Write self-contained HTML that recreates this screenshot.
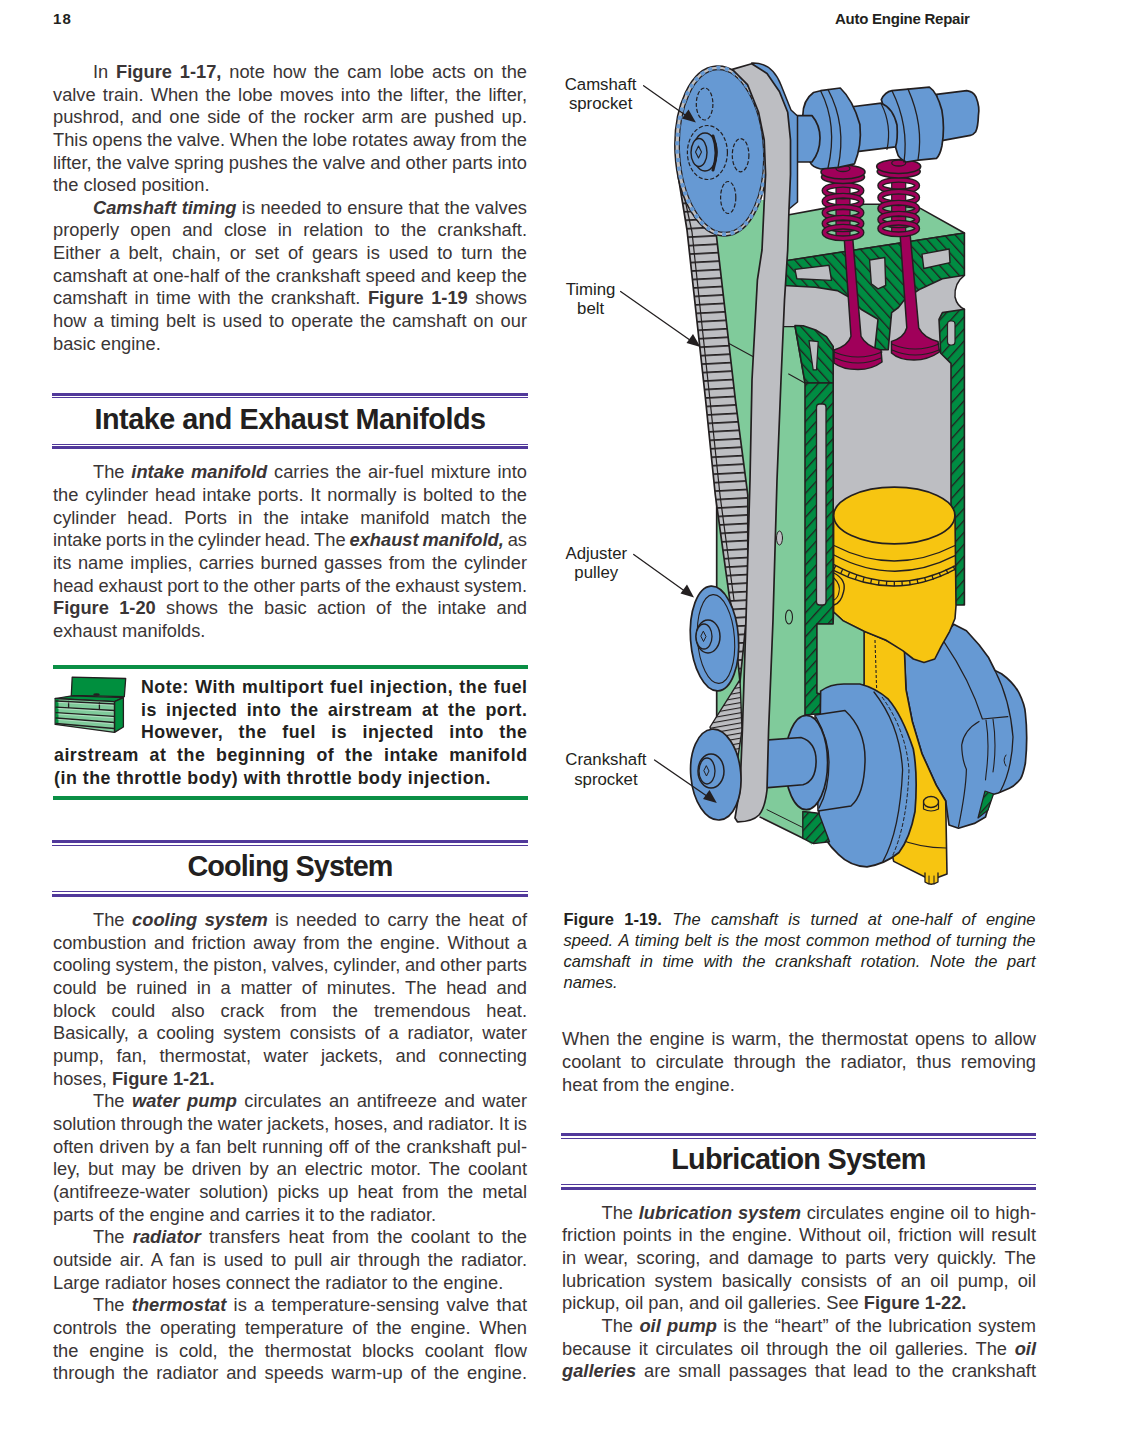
<!DOCTYPE html><html><head><meta charset="utf-8"><style>
*{margin:0;padding:0;box-sizing:border-box}
html,body{width:1122px;height:1444px;background:#fff;overflow:hidden}
body{position:relative;font-family:"Liberation Sans",sans-serif;color:#231f20}
.ln{position:absolute;white-space:nowrap;line-height:20px;height:20px}
.body{font-size:18.3px;letter-spacing:0.0px;color:#3a3536}
.note{font-size:17.8px;letter-spacing:0.52px;font-weight:bold}
.cap{font-size:16.5px;letter-spacing:0.0px}
.rule{position:absolute;background:#51399a}
.grule{position:absolute;background:#0a8f45}
.hd{position:absolute;white-space:nowrap;font-weight:bold;font-size:28.8px;line-height:34px;height:34px}
.lab{position:absolute;white-space:nowrap;font-size:16.8px;line-height:19.3px;text-align:center}
</style></head><body>
<div style="position:absolute;left:53px;top:9.7px;font-size:15px;font-weight:bold;line-height:18px;letter-spacing:1.2px;white-space:nowrap">18</div>
<div style="position:absolute;left:835px;top:9.9px;font-size:15px;font-weight:bold;line-height:18px;letter-spacing:-0.25px;white-space:nowrap">Auto Engine Repair</div>

<div class="rule" style="left:52px;top:393px;width:476px;height:3px"></div>
<div class="rule" style="left:52px;top:397px;width:476px;height:1.2px"></div>
<div class="hd" style="left:52px;width:476px;text-align:center;top:401.5px;letter-spacing:-0.49px">Intake and Exhaust Manifolds</div>
<div class="rule" style="left:52px;top:443.9px;width:476px;height:1.2px"></div>
<div class="rule" style="left:52px;top:446.1px;width:476px;height:2.9px"></div>

<div class="grule" style="left:52.5px;top:664.5px;width:475px;height:4px"></div>
<div class="grule" style="left:52.5px;top:796.4px;width:475px;height:3.9px"></div>

<div class="rule" style="left:52px;top:840px;width:476px;height:2.8px"></div>
<div class="rule" style="left:52px;top:845px;width:476px;height:1.1px"></div>
<div class="hd" style="left:52px;width:476px;text-align:center;top:849.4px;letter-spacing:-0.89px">Cooling System</div>
<div class="rule" style="left:52px;top:890.9px;width:476px;height:1.1px"></div>
<div class="rule" style="left:52px;top:894.1px;width:476px;height:2.8px"></div>

<div class="rule" style="left:561.3px;top:1133px;width:474.3px;height:2.8px"></div>
<div class="rule" style="left:561.3px;top:1138px;width:474.3px;height:1.1px"></div>
<div class="hd" style="left:561.3px;width:474.3px;text-align:center;top:1142.3px;letter-spacing:-0.71px">Lubrication System</div>
<div class="rule" style="left:561.3px;top:1183.9px;width:474.3px;height:1.1px"></div>
<div class="rule" style="left:561.3px;top:1187.1px;width:474.3px;height:2.8px"></div>

<div class="lab" style="left:540.6px;width:120px;top:74.6px">Camshaft<br>sprocket</div>
<div class="lab" style="left:530.6px;width:120px;top:280.2px">Timing<br>belt</div>
<div class="lab" style="left:536.3px;width:120px;top:543.5px">Adjuster<br>pulley</div>
<div class="lab" style="left:545.9px;width:120px;top:750.3px">Crankshaft<br>sprocket</div>

<svg style="position:absolute;left:0;top:0" width="1122" height="1444" viewBox="0 0 1122 1444">
 <g stroke="#231f20" stroke-linejoin="round" stroke-linecap="round">
  <polygon points="72.2,677.1 125.7,678.5 124.3,696.7 71.3,695.4" fill="#008f3e" stroke-width="1.3"/>
  <polygon points="55.2,698.5 71.7,695.8 123.4,697.6 114.5,701.6" fill="#008f3e" stroke-width="1.2"/>
  <polygon points="114.5,701.6 123.4,697.6 123.4,727 114.5,732.4" fill="#008f3e" stroke-width="1.3"/>
  <polygon points="55.2,698.5 114.5,701.6 114.5,732.4 55.2,724.4" fill="#80cb9b" stroke-width="1.4"/>
  <rect x="55.5" y="699" width="3" height="25" fill="#008f3e" stroke="none"/>
  <g fill="none" stroke-width="1.3">
   <path d="M56,701 L114,704"/>
   <path d="M56,707.2 L114,710.5"/>
   <path d="M56,712.6 L114,716.4"/>
   <path d="M56,718 L114,722.5"/>
   <path d="M56,723.5 L114,728.5"/>
   <path d="M68.6,701.5 L68.6,707.5 M99.4,703 L99.4,709.5"/>
  </g>
  <g fill="none" stroke="#fff" stroke-width="0.6" opacity="0.7">
   <path d="M58,702.3 L113,705.2 M58,708.5 L113,711.7 M58,714 L113,717.6 M58,719.4 L113,723.7"/>
  </g>
  <ellipse cx="96.5" cy="694.5" rx="3.2" ry="1.2" fill="#231f20" stroke="none"/>
 </g>
</svg>

<div class="ln body" id="l0_0" style="left:93.0px;top:61.96px;word-spacing:2.752px">In <b>Figure 1-17,</b> note how the cam lobe acts on the</div>
<div class="ln body" id="l0_1" style="left:53.0px;top:84.60px;word-spacing:2.080px">valve train. When the lobe moves into the lifter, the lifter,</div>
<div class="ln body" id="l0_2" style="left:53.0px;top:107.24px;word-spacing:2.277px">pushrod, and one side of the rocker arm are pushed up.</div>
<div class="ln body" id="l0_3" style="left:53.0px;top:129.88px;word-spacing:-0.259px">This opens the valve. When the lobe rotates away from the</div>
<div class="ln body" id="l0_4" style="left:53.0px;top:152.52px;word-spacing:-0.261px">lifter, the valve spring pushes the valve and other parts into</div>
<div class="ln body" id="l0_5" style="left:53.0px;top:175.16px;word-spacing:0.000px">the closed position.</div>
<div class="ln body" id="l0_6" style="left:93.0px;top:197.80px;word-spacing:0.268px"><b><i>Camshaft timing</i></b> is needed to ensure that the valves</div>
<div class="ln body" id="l0_7" style="left:53.0px;top:220.44px;word-spacing:6.150px">properly open and close in relation to the crankshaft.</div>
<div class="ln body" id="l0_8" style="left:53.0px;top:243.08px;word-spacing:3.763px">Either a belt, chain, or set of gears is used to turn the</div>
<div class="ln body" id="l0_9" style="left:53.0px;top:265.72px;word-spacing:0.271px">camshaft at one-half of the crankshaft speed and keep the</div>
<div class="ln body" id="l0_10" style="left:53.0px;top:288.36px;word-spacing:2.352px">camshaft in time with the crankshaft. <b>Figure 1-19</b> shows</div>
<div class="ln body" id="l0_11" style="left:53.0px;top:311.00px;word-spacing:1.795px">how a timing belt is used to operate the camshaft on our</div>
<div class="ln body" id="l0_12" style="left:53.0px;top:333.64px;word-spacing:0.000px">basic engine.</div>
<div class="ln body" id="l1_0" style="left:93.0px;top:462.46px;word-spacing:1.766px">The <b><i>intake manifold</i></b> carries the air-fuel mixture into</div>
<div class="ln body" id="l1_1" style="left:53.0px;top:485.10px;word-spacing:1.672px">the cylinder head intake ports. It normally is bolted to the</div>
<div class="ln body" id="l1_2" style="left:53.0px;top:507.74px;word-spacing:6.154px">cylinder head. Ports in the intake manifold match the</div>
<div class="ln body" id="l1_3" style="left:53.0px;top:530.38px;word-spacing:-1.151px">intake ports in the cylinder head. The <b><i>exhaust manifold,</i></b> as</div>
<div class="ln body" id="l1_4" style="left:53.0px;top:553.02px;word-spacing:1.590px">its name implies, carries burned gasses from the cylinder</div>
<div class="ln body" id="l1_5" style="left:53.0px;top:575.66px;word-spacing:-0.362px">head exhaust port to the other parts of the exhaust system.</div>
<div class="ln body" id="l1_6" style="left:53.0px;top:598.30px;word-spacing:5.243px"><b>Figure 1-20</b> shows the basic action of the intake and</div>
<div class="ln body" id="l1_7" style="left:53.0px;top:620.94px;word-spacing:0.000px">exhaust manifolds.</div>
<div class="ln note" id="l2_0" style="left:141.0px;top:677.03px;word-spacing:0.785px">Note: With multiport fuel injection, the fuel</div>
<div class="ln note" id="l2_1" style="left:141.0px;top:699.68px;word-spacing:3.748px">is injected into the airstream at the port.</div>
<div class="ln note" id="l2_2" style="left:141.0px;top:722.33px;word-spacing:9.912px">However, the fuel is injected into the</div>
<div class="ln note" id="l2_3" style="left:54.0px;top:744.98px;word-spacing:5.291px">airstream at the beginning of the intake manifold</div>
<div class="ln note" id="l2_4" style="left:54.0px;top:767.63px;word-spacing:0.000px">(in the throttle body) with throttle body injection.</div>
<div class="ln body" id="l3_0" style="left:93.0px;top:909.96px;word-spacing:2.493px">The <b><i>cooling system</i></b> is needed to carry the heat of</div>
<div class="ln body" id="l3_1" style="left:53.0px;top:932.62px;word-spacing:2.344px">combustion and friction away from the engine. Without a</div>
<div class="ln body" id="l3_2" style="left:53.0px;top:955.28px;word-spacing:-0.449px">cooling system, the piston, valves, cylinder, and other parts</div>
<div class="ln body" id="l3_3" style="left:53.0px;top:977.94px;word-spacing:4.547px">could be ruined in a matter of minutes. The head and</div>
<div class="ln body" id="l3_4" style="left:53.0px;top:1000.60px;word-spacing:10.810px">block could also crack from the tremendous heat.</div>
<div class="ln body" id="l3_5" style="left:53.0px;top:1023.26px;word-spacing:3.662px">Basically, a cooling system consists of a radiator, water</div>
<div class="ln body" id="l3_6" style="left:53.0px;top:1045.92px;word-spacing:7.529px">pump, fan, thermostat, water jackets, and connecting</div>
<div class="ln body" id="l3_7" style="left:53.0px;top:1068.58px;word-spacing:0.000px">hoses, <b>Figure 1-21.</b></div>
<div class="ln body" id="l3_8" style="left:93.0px;top:1091.24px;word-spacing:2.339px">The <b><i>water pump</i></b> circulates an antifreeze and water</div>
<div class="ln body" id="l3_9" style="left:53.0px;top:1113.90px;word-spacing:-0.290px">solution through the water jackets, hoses, and radiator. It is</div>
<div class="ln body" id="l3_10" style="left:53.0px;top:1136.56px;word-spacing:0.622px">often driven by a fan belt running off of the crankshaft pul-</div>
<div class="ln body" id="l3_11" style="left:53.0px;top:1159.22px;word-spacing:2.756px">ley, but may be driven by an electric motor. The coolant</div>
<div class="ln body" id="l3_12" style="left:53.0px;top:1181.88px;word-spacing:3.991px">(antifreeze-water solution) picks up heat from the metal</div>
<div class="ln body" id="l3_13" style="left:53.0px;top:1204.54px;word-spacing:0.000px">parts of the engine and carries it to the radiator.</div>
<div class="ln body" id="l3_14" style="left:93.0px;top:1227.20px;word-spacing:3.186px">The <b><i>radiator</i></b> transfers heat from the coolant to the</div>
<div class="ln body" id="l3_15" style="left:53.0px;top:1249.86px;word-spacing:2.624px">outside air. A fan is used to pull air through the radiator.</div>
<div class="ln body" id="l3_16" style="left:53.0px;top:1272.52px;word-spacing:0.000px">Large radiator hoses connect the radiator to the engine.</div>
<div class="ln body" id="l3_17" style="left:93.0px;top:1295.18px;word-spacing:2.221px">The <b><i>thermostat</i></b> is a temperature-sensing valve that</div>
<div class="ln body" id="l3_18" style="left:53.0px;top:1317.84px;word-spacing:3.690px">controls the operating temperature of the engine. When</div>
<div class="ln body" id="l3_19" style="left:53.0px;top:1340.50px;word-spacing:5.771px">the engine is cold, the thermostat blocks coolant flow</div>
<div class="ln body" id="l3_20" style="left:53.0px;top:1363.16px;word-spacing:2.846px">through the radiator and speeds warm-up of the engine.</div>
<div class="ln cap" id="l4_0" style="left:563.5px;top:909.18px;word-spacing:5.767px"><b>Figure 1-19.</b> <i>The camshaft is turned at one-half of engine</i></div>
<div class="ln cap" id="l4_1" style="left:563.5px;top:930.08px;word-spacing:1.415px"><i>speed. A timing belt is the most common method of turning the</i></div>
<div class="ln cap" id="l4_2" style="left:563.5px;top:950.98px;word-spacing:5.059px"><i>camshaft in time with the crankshaft rotation. Note the part</i></div>
<div class="ln cap" id="l4_3" style="left:563.5px;top:971.88px;word-spacing:0.000px"><i>names.</i></div>
<div class="ln body" id="l5_0" style="left:562.0px;top:1028.96px;word-spacing:2.083px">When the engine is warm, the thermostat opens to allow</div>
<div class="ln body" id="l5_1" style="left:562.0px;top:1051.76px;word-spacing:4.708px">coolant to circulate through the radiator, thus removing</div>
<div class="ln body" id="l5_2" style="left:562.0px;top:1074.56px;word-spacing:0.000px">heat from the engine.</div>
<div class="ln body" id="l6_0" style="left:601.5px;top:1202.66px;word-spacing:0.665px">The <b><i>lubrication system</i></b> circulates engine oil to high-</div>
<div class="ln body" id="l6_1" style="left:562.0px;top:1225.31px;word-spacing:1.861px">friction points in the engine. Without oil, friction will result</div>
<div class="ln body" id="l6_2" style="left:562.0px;top:1247.96px;word-spacing:3.175px">in wear, scoring, and damage to parts very quickly. The</div>
<div class="ln body" id="l6_3" style="left:562.0px;top:1270.61px;word-spacing:4.127px">lubrication system basically consists of an oil pump, oil</div>
<div class="ln body" id="l6_4" style="left:562.0px;top:1293.26px;word-spacing:0.000px">pickup, oil pan, and oil galleries. See <b>Figure 1-22.</b></div>
<div class="ln body" id="l6_5" style="left:601.5px;top:1315.91px;word-spacing:1.314px">The <b><i>oil pump</i></b> is the &#8220;heart&#8221; of the lubrication system</div>
<div class="ln body" id="l6_6" style="left:562.0px;top:1338.56px;word-spacing:2.573px">because it circulates oil through the oil galleries. The <b><i>oil</i></b></div>
<div class="ln body" id="l6_7" style="left:562.0px;top:1361.21px;word-spacing:2.723px"><b><i>galleries</i></b> are small passages that lead to the crankshaft</div>
<svg style="position:absolute;left:0;top:0" width="1122" height="1444" viewBox="0 0 1122 1444">
<defs>
 <pattern id="hf" patternUnits="userSpaceOnUse" width="8" height="8" patternTransform="rotate(-42)">
  <rect width="8" height="8" fill="#008c42"/><rect x="0" y="0" width="1.3" height="8" fill="#231f20"/>
 </pattern>
 <pattern id="hb" patternUnits="userSpaceOnUse" width="8" height="8" patternTransform="rotate(42)">
  <rect width="8" height="8" fill="#008c42"/><rect x="0" y="0" width="1.3" height="8" fill="#231f20"/>
 </pattern>
 <pattern id="teeth" patternUnits="userSpaceOnUse" width="40" height="8.5" patternTransform="rotate(-3)">
  <rect width="40" height="8.5" fill="#bdbec2"/><rect x="0" y="0" width="40" height="1.7" fill="#231f20"/>
 </pattern>
 <pattern id="teeth2" patternUnits="userSpaceOnUse" width="40" height="5" patternTransform="rotate(-10)">
  <rect width="40" height="5" fill="#bdbec2"/><rect x="0" y="0" width="40" height="1.1" fill="#231f20"/>
 </pattern>
</defs>
<g stroke="#231f20" stroke-width="1.5" stroke-linejoin="round" stroke-linecap="round">
 <!-- gray interior behind cylinder/head -->
 <path d="M783,262 L964.4,234 L964.4,275.3 Q954,283 955,297 Q957,306 964.4,309.2 L964.4,605 L951,605 L951,625 L805,625 L805,383 L795,326.6 L783,326.6 Z" fill="#bdbec2" stroke="none"/>
 <!-- light green block face -->
 <path d="M716,200 L764,200 L764,326.6 L795,326.6 L805,383 L805,700 L812,845 L803,838 L760,816 L740,790 L716,720 Z" fill="#80cb9b" stroke="none"/>
 <line x1="716.7" y1="500" x2="716.7" y2="722" stroke-width="1.7"/>
 <path d="M760,817 L803,838.3" fill="none" stroke-width="1.6"/>
 <path d="M767,809.7 L803,827.6" fill="none" stroke-width="1"/>
 <path d="M764,326.6 L795,326.6 L805,383" fill="none" stroke-width="1.4"/>
 <path d="M729,343.6 L753.8,357" fill="none" stroke-width="1.1"/>
 <path d="M788.7,373.9 L804.9,383.1" fill="none" stroke-width="1.1"/>
 <!-- head top face -->
 <path d="M785,215.5 L823.9,208.4 L864.5,204.2 L881.4,204.2 L920.4,208.4 L964.4,233 L785,261 Z" fill="#80cb9b" stroke-width="1.6"/>
 <!-- head section -->
 <path d="M784,261 L964.4,233 L964.4,275.3 L942.4,278.7 L920.4,288.9 L905,299 L898.4,307.5 L891.6,312.6 L888.2,349.8 L874.7,349.8 L878,319.3 L861,309.2 L849.3,297.3 L837.4,290.6 L815.4,287.2 L784,285.5 Z" fill="url(#hf)" stroke-width="1.6"/>
 <path d="M795,269.4 L829,265.2 L831.5,280.4 L796.8,278.7 Z" fill="#bdbec2" stroke-width="1.4"/>
 <path d="M869.6,260 L884.8,257.5 L885.7,285.5 L878,288.9 L871.3,283.8 Z" fill="#bdbec2" stroke-width="1.4"/>
 <path d="M922,254.1 L949.2,249 L950,262.6 L923.8,268.5 Z" fill="#bdbec2" stroke-width="1.4"/>
 <path d="M964.4,275.3 Q954,283 955,297 Q957,306 964.4,309.2" fill="none" stroke-width="1.5"/>
 <!-- left wall -->
 <path d="M795,325.5 L803.2,325.8 L815.7,330 L826.5,336.6 L833.2,346.5 L833.2,383 L805,383 Z" fill="url(#hf)" stroke-width="1.6"/>
 <path d="M805,383 L833.2,383 L833.2,624 L817,624 L817,693 L842,701 L842,711.7 L805,715 Z" fill="url(#hb)" stroke-width="1.6"/>
 <path d="M809,340.7 L818.2,341.6 L816.5,369.8 L813.2,369.8 Z" fill="#bdbec2" stroke-width="1.2"/>
 <rect x="816.5" y="404" width="9.5" height="201" rx="3" fill="#bdbec2" stroke-width="1.3"/>
 <!-- right wall -->
 <path d="M939,319.3 L942.4,312.6 L964.4,309.2 L964.4,605 L951,605 L951,363.4 L940.7,353.2 Z" fill="url(#hb)" stroke-width="1.6"/>
 <rect x="947.5" y="321" width="7.5" height="24" rx="3" fill="#bdbec2" stroke-width="1.2"/>
 <!-- valves -->
 <path d="M844.2,238 L852.7,238 L861,336.3 Q866,346 881,350 L882,362 Q872,369.5 858,369.5 Q842,369.5 834,363 L834,350 Q848,346 851,336.3 Z" fill="#a0005a" stroke-width="1.5"/>
 <path d="M834,352 Q858,362 882,352" fill="none" stroke-width="1.2"/>
 <path d="M835,358 Q858,368 881,358" fill="none" stroke-width="1.2"/>
 <path d="M900,233 L910,233 L918.7,327.8 Q924,338 938,341.4 L939.5,352 Q928,360 914,360 Q899,360 891.5,353 L891.5,341.4 Q904,338 906.8,327.8 Z" fill="#a0005a" stroke-width="1.5"/>
 <path d="M891.5,344 Q915,354 939,344" fill="none" stroke-width="1.2"/>
 <path d="M892,350 Q915,360 939,350" fill="none" stroke-width="1.2"/>
 <!-- springs -->
 <g>
  <rect x="836" y="167" width="14" height="73.5" fill="#a0005a" stroke="#231f20" stroke-width="1.2"/>
  <ellipse cx="843" cy="190.6" rx="18.5" ry="5.8" fill="none" stroke="#231f20" stroke-width="6"/>
  <ellipse cx="843" cy="190.6" rx="18.5" ry="5.8" fill="none" stroke="#a0005a" stroke-width="3.2"/>
  <ellipse cx="843" cy="201.5" rx="18.5" ry="5.8" fill="none" stroke="#231f20" stroke-width="6"/>
  <ellipse cx="843" cy="201.5" rx="18.5" ry="5.8" fill="none" stroke="#a0005a" stroke-width="3.2"/>
  <ellipse cx="843" cy="212.7" rx="18.5" ry="5.8" fill="none" stroke="#231f20" stroke-width="6"/>
  <ellipse cx="843" cy="212.7" rx="18.5" ry="5.8" fill="none" stroke="#a0005a" stroke-width="3.2"/>
  <ellipse cx="843" cy="223.5" rx="18.5" ry="5.8" fill="none" stroke="#231f20" stroke-width="6"/>
  <ellipse cx="843" cy="223.5" rx="18.5" ry="5.8" fill="none" stroke="#a0005a" stroke-width="3.2"/>
  <ellipse cx="843" cy="232.5" rx="18.5" ry="5.8" fill="none" stroke="#231f20" stroke-width="6"/>
  <ellipse cx="843" cy="232.5" rx="18.5" ry="5.8" fill="none" stroke="#a0005a" stroke-width="3.2"/>
  <ellipse cx="843" cy="177" rx="21.5" ry="6.5" fill="#a0005a" stroke="#231f20" stroke-width="1.6"/>
  <ellipse cx="843" cy="172" rx="22" ry="7" fill="#a0005a" stroke="#231f20" stroke-width="1.6"/>
  <ellipse cx="843" cy="168.5" rx="7" ry="3" fill="#a0005a" stroke="#231f20" stroke-width="1.3"/>
  <rect x="891.7" y="161.5" width="14" height="75.0" fill="#a0005a" stroke="#231f20" stroke-width="1.2"/>
  <ellipse cx="898.7" cy="185.6" rx="18.5" ry="5.8" fill="none" stroke="#231f20" stroke-width="6"/>
  <ellipse cx="898.7" cy="185.6" rx="18.5" ry="5.8" fill="none" stroke="#a0005a" stroke-width="3.2"/>
  <ellipse cx="898.7" cy="197.4" rx="18.5" ry="5.8" fill="none" stroke="#231f20" stroke-width="6"/>
  <ellipse cx="898.7" cy="197.4" rx="18.5" ry="5.8" fill="none" stroke="#a0005a" stroke-width="3.2"/>
  <ellipse cx="898.7" cy="208.5" rx="18.5" ry="5.8" fill="none" stroke="#231f20" stroke-width="6"/>
  <ellipse cx="898.7" cy="208.5" rx="18.5" ry="5.8" fill="none" stroke="#a0005a" stroke-width="3.2"/>
  <ellipse cx="898.7" cy="219.5" rx="18.5" ry="5.8" fill="none" stroke="#231f20" stroke-width="6"/>
  <ellipse cx="898.7" cy="219.5" rx="18.5" ry="5.8" fill="none" stroke="#a0005a" stroke-width="3.2"/>
  <ellipse cx="898.7" cy="228.5" rx="18.5" ry="5.8" fill="none" stroke="#231f20" stroke-width="6"/>
  <ellipse cx="898.7" cy="228.5" rx="18.5" ry="5.8" fill="none" stroke="#a0005a" stroke-width="3.2"/>
  <ellipse cx="898.7" cy="171.5" rx="21.5" ry="6.5" fill="#a0005a" stroke="#231f20" stroke-width="1.6"/>
  <ellipse cx="898.7" cy="166.5" rx="22" ry="7" fill="#a0005a" stroke="#231f20" stroke-width="1.6"/>
  <ellipse cx="898.7" cy="163.0" rx="7" ry="3" fill="#a0005a" stroke="#231f20" stroke-width="1.3"/>
 </g>
 <!-- camshaft -->
 <g fill="#6699d3" stroke-width="1.7">
  <path d="M936.5,94.3 L966.8,90.7 Q973,91.5 976,97 Q980,107 978.4,115.6 Q978,127 975.7,131.7 Q973,135 970.4,135.3 L941.9,140.6 Z"/>
  <path d="M881.3,99.6 Q885,92 892,90.7 L929.4,87.1 Q937,92 941.9,110.3 Q945,128 941.9,146 Q940,155 936.5,158.4 L918.7,160.2 L906.2,162 Q898,158 897.3,153 Z"/>
  <path d="M892,90.7 Q909,125 904,162" fill="none" stroke-width="1.3"/>
  <path d="M908,89 Q924,125 918,160" fill="none" stroke-width="1.3"/>
  <path d="M850,107 L881.3,103.2 Q893,108 897,125 Q898,140 895.5,146.8 L855,151.8 Z"/>
  <path d="M881.3,104 Q892,125 887,149.5" fill="none" stroke-width="1.2"/>
  <path d="M802.8,115.6 Q803,100 813.5,92.5 L820.6,90.7 L840.3,88 Q853,100 859.9,124.6 Q862,145 854.5,163.8 L838.5,167.3 L820.6,169 Q812,167 810,162 Z"/>
  <path d="M820.6,90.7 Q838,125 828,168" fill="none" stroke-width="1.3"/>
  <path d="M828,89.5 Q847,125 838,167.5" fill="none" stroke-width="1.3"/>
  <path d="M792,115.6 L812,115.6 Q820,125 820,138 Q820,152 812,162 L792,162 Z"/>
 </g>
 <!-- right crank web (behind rod) -->
 <path d="M904,650 L940,641 L953.7,624.3 L966.4,630.7 L979.2,645 L988.7,657.8 L995,670.5 L1001.5,673.7 Q1013,682 1019,692.8 Q1025,705 1025.4,713.5 Q1028,737 1025.4,763 Q1023,775 1020.6,778.8 Q1015,786 1009.4,788.3 L998.3,793 L992,794.7 L985.5,817 L974.4,823.4 L958.5,828.2 L949,825 L945.7,801 L936.2,785.2 L921.8,753.3 L912.3,721.5 L906,689.6 Z" fill="#6699d3" stroke-width="1.7"/>
 <path d="M944,641.8 Q970,680 982.4,719 L1007.8,716.7" fill="none" stroke-width="1.2"/>
 <path d="M995,670.5 Q1010,700 1013,737 Q1012,770 1000,792" fill="none" stroke-width="1.3"/>
 <path d="M979,721.5 Q964,730 961.7,745 Q962,760 966.4,769.2 Q966,790 958.5,826.6" fill="none" stroke-width="1.2"/>
 <path d="M986,720 Q990,745 986,775 L985.5,780" fill="none" stroke-width="1.1"/>
 <path d="M993,719 Q997,745 993,772" fill="none" stroke-width="1.1"/>
 <path d="M1006,755 Q1002,760 1006,766" fill="none" stroke-width="1"/>
 <!-- dark green bit right -->
 <path d="M985,791 L993.5,794 L988,810 L978,818 Z" fill="url(#hb)" stroke-width="1.2"/>
 <!-- yellow rod -->
 <path d="M864,631 L904.3,648 L906,689.6 L912.3,721.5 L921.8,753.3 L936.2,785.2 L945.7,801 L947,874 L931,880 L893.7,861.4 L880,800 L864,690 Z" fill="#f7c511" stroke-width="1.6"/>
 <path d="M875,640 L877,700" fill="none" stroke-width="1.1" stroke-dasharray="3,2" stroke-linecap="butt"/>
 <path d="M896,838 Q920,848 946,848" fill="none" stroke-width="1.1"/>
 <ellipse cx="931" cy="802" rx="7.5" ry="5.5" fill="#f7c511" stroke-width="1.3"/>
 <path d="M923.5,802 L923.5,809 Q931,813 938.5,809 L938.5,802" fill="none" stroke-width="1.2"/>
 <path d="M925,873 L925,882 Q931,886.5 938,882 L938,873" fill="#f7c511" stroke-width="1.3"/><path d="M929,876 L929,884 M934,876 L934,884" fill="none" stroke-width="1"/>
 <!-- piston -->
 <path d="M833.6,515 L955,515 L956,605.7 L955,618.5 L949.7,631.3 L941.2,646.3 L934.8,659 L924,662.4 L913.4,659 L902.7,650.6 L885.6,640 L864,631.3 L842.8,620.6 L833.6,612 Z" fill="#f7c511" stroke-width="1.6"/>
 <ellipse cx="894.3" cy="515.5" rx="60.6" ry="28.4" fill="#f7c511" stroke-width="1.7"/>
 <path d="M834,545.5 Q894,576.5 955,545.5" fill="none" stroke-width="1.4"/>
 <path d="M834,555 Q894,587 955,555.7" fill="none" stroke-width="1.4"/>
 <path d="M834,564.6 Q894,597.6 955,565.8" fill="none" stroke-width="1.3"/>
 <path d="M834,570.6 Q894,602 955,569.4" fill="none" stroke-width="1.3"/>
 <path d="M834,567.6 Q894,599.8 955,567.6" fill="none" stroke-width="5" stroke-dasharray="1.3,6.5" stroke-linecap="butt"/>
 <path d="M834,573 Q847,580 843.5,592 Q841,603 834,605" fill="none" stroke-width="1.4"/>
 <path d="M834,578 Q841,585 839,592 Q838,598 834,600" fill="none" stroke-width="1.1"/>
 <!-- light green inner block face (crankcase) -->
 <path d="M817,624 L833.2,624 L833.6,612 L842.8,620.6 L864,631.3 L864,684 L842,701 L817,693 Z" fill="#80cb9b" stroke-width="1.4"/>
 <!-- left web -->
 <path d="M820.6,691.2 Q830,684 843.8,684 L859.8,684 Q876,688 888.3,699.2 Q902,715 913.3,749 Q918,775 915,811.5 Q910,838 899,852.5 Q885,864 867,866.8 Q850,866 838.4,854.3 Q823,840 818.8,824 Z" fill="#6699d3" stroke-width="1.7"/>
 <path d="M874,692 Q900,725 902.6,770 Q900,830 883,861.4" fill="none" stroke-width="1.3"/>
 <path d="M882,697 Q906,730 909,770 Q907,825 892,857" fill="none" stroke-width="1" stroke-dasharray="4,2" stroke-linecap="butt"/>
 <!-- dark green bottom bits -->
 <path d="M802.8,811.5 L818.8,813.3 L829.5,841.8 L813.5,843.6 L802.8,838.3 Z" fill="url(#hb)" stroke-width="1.4"/>
 <!-- collar -->
 <path d="M815,715 L845,710.5 Q866,730 865,762 Q864,795 851,806 L818,811 Z" fill="#6699d3" stroke-width="1.5"/>
 <!-- small cylinder -->
 <ellipse cx="806.3" cy="762.5" rx="21.3" ry="47.2" fill="#6699d3" stroke-width="1.7"/>
 <path d="M816,717 Q829,740 829,762 Q829,790 819,808" fill="none" stroke-width="1.3"/>
 <!-- shaft stub -->
 <path d="M760,740.5 L801,737.5 Q816,742 816.1,761 Q816,781 803,784.8 L760,788.3 Z" fill="#6699d3" stroke-width="1.6"/>
 <!-- camshaft sprocket: rim behind belt -->
 <path d="M751.7,63 Q772,62 781,85 L791,110 L797.5,116 L797.5,202 L789,209 L776,209 L776,90 Z" fill="#6699d3" stroke-width="1.5"/>
 <!-- toothed belt left run -->
 <path d="M680,180 L706,226 L716,232 L735.4,400 L747.8,495 L747.8,600 L747,612 L740,682 L733,612 L729.8,600 L715.3,495 L705.6,400 L687,230 L678,175 Z" fill="url(#teeth)" stroke-width="1.7"/>
 <path d="M684,195 L692,232 L710,400 L720,495 L734,600" fill="none" stroke-width="1.2"/>
 <!-- toothed segment between pulleys -->
 <path d="M740,679.6 L742,730 L733,790 L720,760 L710,727 Z" fill="url(#teeth2)" stroke-width="1.4"/>
 <!-- cam sprocket teeth ring + face -->
 <g transform="rotate(-3 721 151)">
 <ellipse cx="721" cy="151" rx="46" ry="85" fill="#bdbec2" stroke-width="1.5"/>
 <ellipse cx="721.5" cy="151" rx="42" ry="81.5" fill="#6699d3" stroke-width="1.2"/>
 <ellipse cx="721.5" cy="151" rx="44" ry="83.3" fill="none" stroke="#6699d3" stroke-width="4" stroke-dasharray="4,4.5" stroke-linecap="butt"/>
 </g>
 <g fill="none" stroke-width="1.2" stroke-dasharray="4,2" stroke-linecap="butt">
  <ellipse cx="704.6" cy="104" rx="8.3" ry="16"/>
  <ellipse cx="740.6" cy="155.2" rx="8.3" ry="16.6"/>
  <ellipse cx="728.2" cy="197.5" rx="7.6" ry="16"/>
  <ellipse cx="707.4" cy="152.5" rx="20" ry="27"/>
 </g>
 <ellipse cx="705" cy="152" rx="12" ry="19" fill="#6699d3" stroke-width="1.5"/>
 <ellipse cx="699" cy="152.5" rx="8" ry="14" fill="#6699d3" stroke-width="1.4"/>
 <path d="M698.5,146 L701.5,152 L698.5,158 L695.5,152 Z" fill="none" stroke-width="1.1"/>
 <path d="M713,136 Q719,152 713,170" fill="none" stroke-width="3"/>
 <!-- right plain belt -->
 <path d="M732.3,69.4 L751.7,63.8 L767,73.5 L779.4,91.5 L787.7,112.3 L790.5,140 L790.5,174.6 L789,209.3 L787.7,250 L784.5,300 L781,380 L777,480 L773,620 L768.6,730 L767,790 Q765,808 759,815 Q752,822 737.4,821.8 L735,818 L738,800 L740,790 L742.4,730 L746,620 L750,480 L752,380 L757.4,280 L762,250 L764.2,202.3 L765.6,174.6 L764.2,140 L758.6,112.3 L747.5,84.6 Z" fill="#bdbec2" stroke-width="1.7"/>
 <!-- small holes on block face -->
 <ellipse cx="779.5" cy="538" rx="3" ry="7" fill="#bdbec2" stroke-width="1"/>
 <ellipse cx="789" cy="617" rx="3.5" ry="7" fill="none" stroke-width="1.1"/>
 <!-- adjuster pulley -->
 <ellipse cx="714.5" cy="638.5" rx="24" ry="52.5" transform="rotate(-4 714.5 638.5)" fill="#6699d3" stroke-width="1.7"/>
 <ellipse cx="716" cy="639" rx="18.5" ry="44.5" transform="rotate(-4 716 639)" fill="none" stroke-width="1.1"/>
 <ellipse cx="708" cy="636.5" rx="12" ry="16.5" fill="#6699d3" stroke-width="1.5"/>
 <ellipse cx="704" cy="636.5" rx="8" ry="12.5" fill="#6699d3" stroke-width="1.3"/>
 <path d="M703.5,631.5 L706,636.5 L703.5,641.5 L701,636.5 Z" fill="none" stroke-width="1"/>
 <!-- crank sprocket -->
 <ellipse cx="715.8" cy="774.6" rx="25" ry="45.5" transform="rotate(-5 715.8 774.6)" fill="#6699d3" stroke-width="1.7"/>
 <ellipse cx="711" cy="771" rx="13" ry="17" fill="#6699d3" stroke-width="1.5"/>
 <ellipse cx="707" cy="771" rx="8" ry="13" fill="#6699d3" stroke-width="1.3"/>
 <path d="M706.5,766 L709,771 L706.5,776 L704,771 Z" fill="none" stroke-width="1"/>
 <!-- arrows -->
 <g stroke-width="1.3" fill="#231f20">
  <line x1="643.6" y1="85.7" x2="688" y2="117"/>
  <path d="M695.9,122.4 L682,118.5 L688.5,109.5 Z" stroke="none"/>
  <line x1="620.6" y1="291.5" x2="692" y2="341.5"/>
  <path d="M700.4,347 L686.5,343 L693,334 Z" stroke="none"/>
  <line x1="633.7" y1="554.5" x2="686" y2="592"/>
  <path d="M694,597.5 L680.5,593.5 L687,584.5 Z" stroke="none"/>
  <line x1="654.5" y1="760" x2="709" y2="797.5"/>
  <path d="M716.8,803 L703,799 L709.5,790 Z" stroke="none"/>
 </g>
</g>
</svg>

</body></html>
